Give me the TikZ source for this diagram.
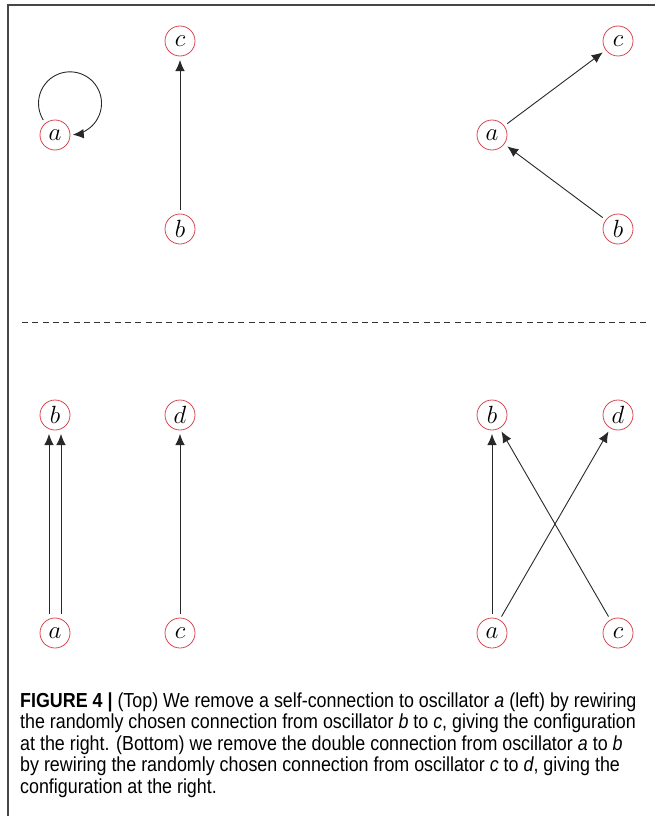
\documentclass[tikz,border=0pt]{standalone}
\usepackage{fontspec}
\newfontfamily\capfont{Liberation Sans}[FakeStretch=0.88]
\usetikzlibrary{arrows.meta}
\definecolor{nodered}{RGB}{215,70,80}
\definecolor{framegray}{RGB}{70,70,70}
\definecolor{edgegray}{RGB}{40,40,40}
\tikzset{
  osc/.style={circle, draw=nodered, line width=0.8pt, minimum size=30pt, inner sep=0pt, outer sep=4pt, font=\fontsize{24}{24}\selectfont},
  conn/.style={draw=edgegray, line width=0.9pt, -{Latex[length=11pt,width=9.5pt]}},
  capline/.style={anchor=base west, inner sep=0pt, font=\capfont\fontsize{20.3}{22}\selectfont},
}
\begin{document}
\begin{tikzpicture}[x=1pt,y=-1pt]
\useasboundingbox (0,0) rectangle (655,816);
% frame
\draw[framegray, line width=2pt] (8,816) -- (8,5) -- (655,5);
% separator
\draw[black!80, line width=1pt, dash pattern=on 6pt off 4.3pt] (22,322) -- (648,322);

% top-left
\node[osc] (a1) at (55,135) {$a$};
\node[osc] (c1) at (180,41) {$c$};
\node[osc] (b1) at (180,229) {$b$};
\draw[conn] (a1.128) arc[start angle=-212, end angle=85, radius=31.5];
\draw[conn] (b1) -- (c1);

% top-right
\node[osc] (a2) at (492,135) {$a$};
\node[osc] (c2) at (618,41) {$c$};
\node[osc] (b2) at (618,229) {$b$};
\draw[conn] (a2) -- (c2);
\draw[conn] (b2) -- (a2);

% bottom-left
\node[osc] (b3) at (55,415) {$b$};
\node[osc] (d3) at (180,415) {$d$};
\node[osc] (a3) at (55,633) {$a$};
\node[osc] (c3) at (180,633) {$c$};
\draw[conn] ([xshift=-6pt]a3.north) -- ([xshift=-6pt]b3.south);
\draw[conn] ([xshift=6pt]a3.north) -- ([xshift=6pt]b3.south);
\draw[conn] (c3) -- (d3);

% bottom-right
\node[osc] (b4) at (492,415) {$b$};
\node[osc] (d4) at (618,415) {$d$};
\node[osc] (a4) at (492,633) {$a$};
\node[osc] (c4) at (618,633) {$c$};
\draw[conn] (a4) -- (b4);
\draw[conn] (a4) -- (d4);
\draw[conn] (c4) -- (b4);

% caption
\node[capline] (l1) at (20,707) {\textbf{FIGURE 4 |} (Top) We remove a self-connection to oscillator \textit{a} (left) by rewiring};
\node[capline] (l2) at (20,728.5) {the randomly chosen connection from oscillator \textit{b} to \textit{c}, giving the configuration};
\node[capline] (l3) at (20,750) {at the right. (Bottom) we remove the double connection from oscillator \textit{a} to \textit{b}};
\node[capline] (l4) at (20,771.5) {by rewiring the randomly chosen connection from oscillator \textit{c} to \textit{d}, giving the};
\node[capline] (l5) at (20,793) {configuration at the right.};
\end{tikzpicture}
\end{document}
